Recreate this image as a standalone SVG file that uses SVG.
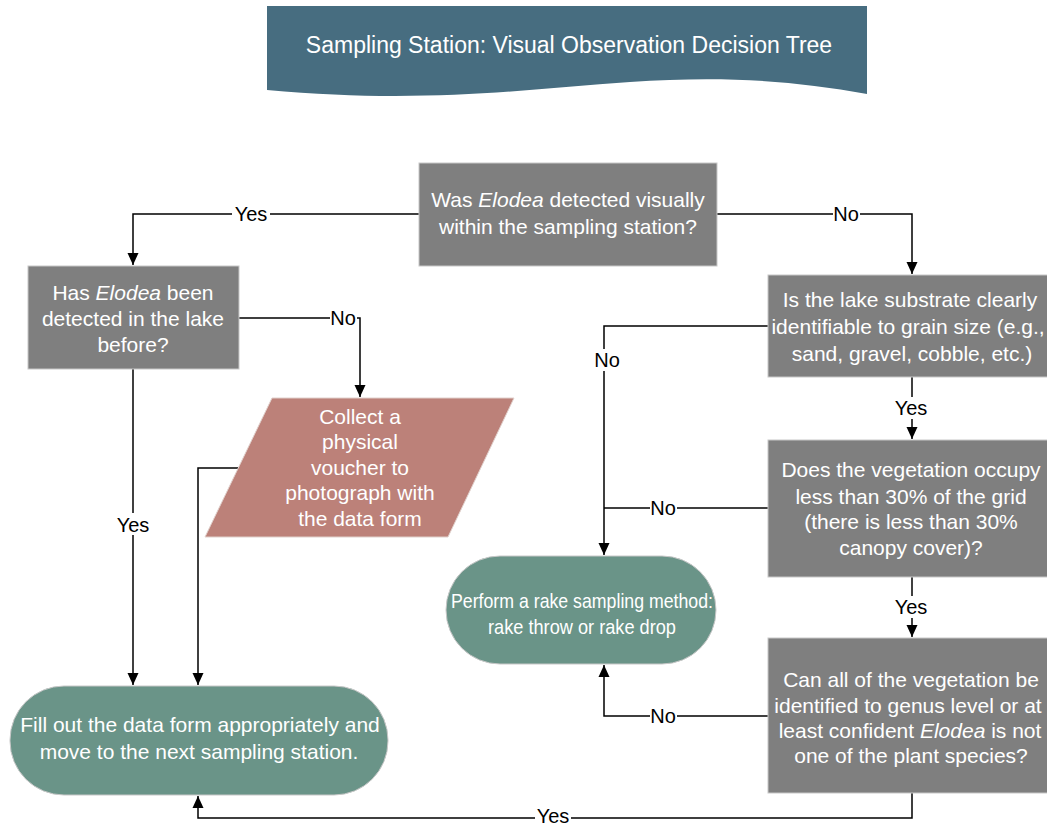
<svg xmlns="http://www.w3.org/2000/svg" width="1047" height="826" viewBox="0 0 1047 826">
<style>
.t{font-family:"Liberation Sans",Arial,sans-serif;font-size:21px;fill:#fff;text-anchor:middle}
.h{font-family:"Liberation Sans",Arial,sans-serif;font-size:23px;fill:#fff;text-anchor:middle}
.l{font-family:"Liberation Sans",Arial,sans-serif;font-size:20px;fill:#000;text-anchor:middle}
.g{fill:#7f7f7f;stroke:#c8c8c8;stroke-width:1}
.s{fill:#6a9488;stroke:#c8c8c8;stroke-width:1}
.p{fill:#bc8179;stroke:#e0d0cc;stroke-width:1}
.c{fill:none;stroke:#000;stroke-width:1.5}
.bg{fill:#fff}
</style>
<defs>
<marker id="a" viewBox="0 0 12 12" refX="12" refY="6" markerWidth="12" markerHeight="12" markerUnits="userSpaceOnUse" orient="auto">
<path d="M0,0.5 L12,6 L0,11.5 Z" fill="#000"/>
</marker>
</defs>
<rect width="1047" height="826" fill="#fff"/>
<g id="title">
<path d="M267,6 H867 V94 C790,80 720,76 630,82 C520,90 420,104 267,90 Z" fill="#476d80"/>
<text class="h" x="569" y="53">Sampling Station: Visual Observation Decision Tree</text>
</g>
<g id="connectors">
<path class="c" d="M419,214 H133 V265" marker-end="url(#a)"/>
<path class="c" d="M717,214 H912 V274" marker-end="url(#a)"/>
<path class="c" d="M239,318 H360 V397" marker-end="url(#a)"/>
<path class="c" d="M133,369 V685" marker-end="url(#a)"/>
<path class="c" d="M240,468 H198 V685" marker-end="url(#a)"/>
<path class="c" d="M768,326 H604 V555" marker-end="url(#a)"/>
<path class="c" d="M912,377 V439" marker-end="url(#a)"/>
<path class="c" d="M768,508 H604"/>
<path class="c" d="M912,577 V637" marker-end="url(#a)"/>
<path class="c" d="M768,716 H604 V665" marker-end="url(#a)"/>
<path class="c" d="M912,793 V818 H198 V796" marker-end="url(#a)"/>
<rect class="bg" x="232" y="203" width="38" height="22"/>
<text class="l" x="251" y="221">Yes</text>
<rect class="bg" x="833" y="203" width="27" height="22"/>
<text class="l" x="846" y="221">No</text>
<rect class="bg" x="330" y="307" width="27" height="22"/>
<text class="l" x="343" y="325">No</text>
<rect class="bg" x="114" y="513" width="38" height="22"/>
<text class="l" x="133" y="532">Yes</text>
<rect class="bg" x="594" y="349" width="27" height="22"/>
<text class="l" x="607" y="367">No</text>
<rect class="bg" x="892" y="397" width="38" height="22"/>
<text class="l" x="911" y="415">Yes</text>
<rect class="bg" x="650" y="497" width="27" height="22"/>
<text class="l" x="663" y="515">No</text>
<rect class="bg" x="892" y="596" width="38" height="22"/>
<text class="l" x="911" y="614">Yes</text>
<rect class="bg" x="650" y="705" width="27" height="22"/>
<text class="l" x="663" y="723">No</text>
<rect class="bg" x="535" y="809" width="36" height="17"/>
<text class="l" x="553" y="823" font-size="19">Yes</text>
</g>
<g id="n1">
<rect class="g" x="419" y="163" width="298" height="103"/>
<text class="t" x="568" y="207">Was <tspan font-style="italic">Elodea</tspan> detected visually</text>
<text class="t" x="568" y="234">within the sampling station?</text>
</g>
<g id="n2">
<rect class="g" x="28" y="266" width="211" height="103"/>
<text class="t" x="133" y="300">Has <tspan font-style="italic">Elodea</tspan> been</text>
<text class="t" x="133" y="326">detected in the lake</text>
<text class="t" x="133" y="352">before?</text>
</g>
<g id="n3">
<path class="p" d="M272,398 H514 L448,537 H205 Z"/>
<text class="t" x="360" y="424">Collect a</text>
<text class="t" x="360" y="449">physical</text>
<text class="t" x="360" y="475">voucher to</text>
<text class="t" x="360" y="500">photograph with</text>
<text class="t" x="360" y="526">the data form</text>
</g>
<g id="n4">
<rect class="s" x="10" y="686" width="378" height="109" rx="54" ry="54"/>
<text class="t" x="200" y="732">Fill out the data form appropriately and</text>
<text class="t" x="199" y="759">move to the next sampling station.</text>
</g>
<g id="n5">
<rect class="g" x="768" y="275" width="280" height="102"/>
<text class="t" x="910" y="307">Is the lake substrate clearly</text>
<text class="t" x="908" y="334">identifiable to grain size (e.g.,</text>
<text class="t" x="912" y="361">sand, gravel, cobble, etc.)</text>
</g>
<g id="n6">
<rect class="g" x="768" y="440" width="280" height="137"/>
<text class="t" x="911" y="477">Does the vegetation occupy</text>
<text class="t" x="911" y="504">less than 30% of the grid</text>
<text class="t" x="911" y="529">(there is less than 30%</text>
<text class="t" x="911" y="555">canopy cover)?</text>
</g>
<g id="n7">
<rect class="s" x="446" y="556" width="270" height="108" rx="54" ry="54"/>
<text class="t" x="582" y="608" textLength="262" lengthAdjust="spacingAndGlyphs">Perform a rake sampling method:</text>
<text class="t" x="582" y="634" textLength="188" lengthAdjust="spacingAndGlyphs">rake throw or rake drop</text>
</g>
<g id="n8">
<rect class="g" x="768" y="638" width="280" height="155"/>
<text class="t" x="911" y="687">Can all of the vegetation be</text>
<text class="t" x="908" y="713">identified to genus level or at</text>
<text class="t" x="910" y="738">least confident <tspan font-style="italic">Elodea</tspan> is not</text>
<text class="t" x="911" y="763">one of the plant species?</text>
</g>
</svg>
